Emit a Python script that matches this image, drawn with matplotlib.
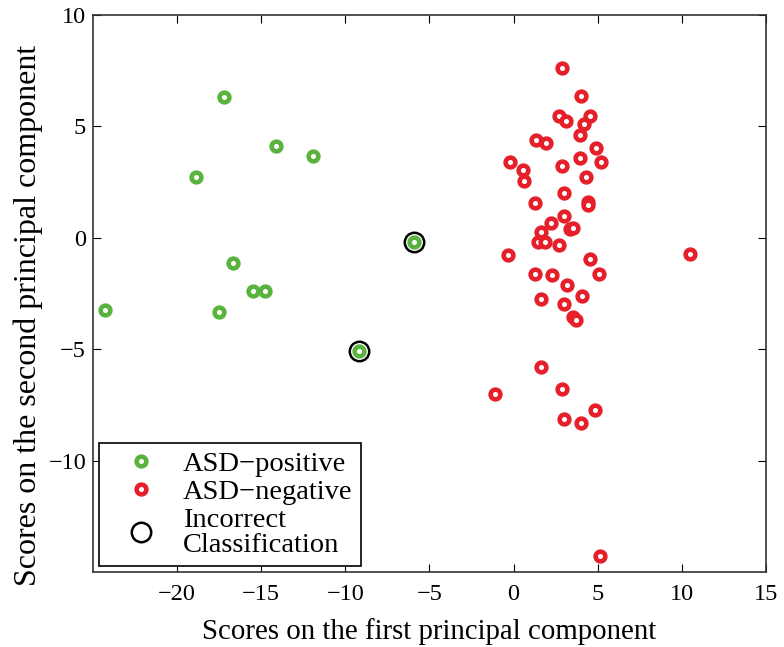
import matplotlib
matplotlib.use('Agg')
import matplotlib.pyplot as plt
from matplotlib.lines import Line2D

plt.rcParams['font.family'] = ['Liberation Serif', 'DejaVu Serif']

# ASD-positive scores (first PC, second PC)
pos_x = [-24.3, -18.9, -17.2, -17.5, -16.7, -15.5, -14.8, -14.1, -11.9, -5.9, -9.2]
pos_y = [-3.23, 2.74, 6.32, -3.32, -1.12, -2.38, -2.38, 4.13, 3.68, -0.18, -5.07]

# ASD-negative scores
neg_x = [2.9, 4.03, 2.68, 3.1, 4.52, 4.19, 3.97, 1.31, 1.9, 4.92,
         -0.2, 5.18, 3.97, 2.9, 0.56, 0.61, 4.33, 2.98, 1.25, 4.42,
         4.42, 3.0, 2.24, 3.33, 3.53, 1.65, 1.45, 1.85, 2.7, -0.34,
         4.52, 5.06, 1.25, 2.3, 3.17, 4.09, 1.65, 2.98, 3.53, 3.69,
         1.61, -1.09, 2.9, 4.82, 3.0, 4.03, 10.5, 5.12]
neg_y = [7.64, 6.37, 5.47, 5.26, 5.46, 5.11, 4.62, 4.39, 4.25, 4.02,
         3.41, 3.41, 3.57, 3.24, 3.03, 2.53, 2.72, 2.0, 1.58, 1.6,
         1.45, 1.0, 0.66, 0.4, 0.43, 0.28, -0.21, -0.21, -0.31, -0.76,
         -0.96, -1.63, -1.63, -1.69, -2.11, -2.63, -2.75, -2.99, -3.56, -3.71,
         -5.8, -7.0, -6.77, -7.71, -8.12, -8.31, -0.72, -14.3]

# misclassified samples
wrong_x = [-5.9, -9.2]
wrong_y = [-0.18, -5.07]

green = '#5ab33c'
red = '#e5202a'
ring = dict(marker='o', ls='none', ms=7, mew=3.3, mfc='white')
big = dict(marker='o', ls='none', ms=14, mew=1.8, mfc='none', mec='black')

fig = plt.figure(figsize=(7.84, 6.47), dpi=100)
ax = fig.add_axes([0.1186, 0.116, 0.8584, 0.8608])

ax.plot(neg_x, neg_y, mec=red, **ring)
ax.plot(pos_x, pos_y, mec=green, **ring)
ax.plot(wrong_x, wrong_y, **big)

ax.set_xlim(-25, 15)
ax.set_ylim(-15, 10)
ax.set_xticks([-20, -15, -10, -5, 0, 5, 10, 15])
ax.set_yticks([-10, -5, 0, 5, 10])
ax.tick_params(direction='in', labelsize=17.5, length=6, top=True, right=True,
               labeltop=False, labelright=False)
ax.tick_params(axis='x', pad=9)
ax.tick_params(axis='y', pad=5)
for s in ax.spines.values():
    s.set_linewidth(1.2)
    s.set_color('#333333')

ax.set_xlabel('Scores on the first principal component', fontsize=20.8, labelpad=9)
ax.set_ylabel('Scores on the second principal component', fontsize=23)
ax.yaxis.set_label_coords(-0.074, 0.461)

handles = [
    Line2D([], [], mec=green, **ring),
    Line2D([], [], mec=red, **ring),
    Line2D([], [], **big),
]
labels = ['ASD\u2212positive', 'ASD\u2212negative', 'Incorrect\nClassification']
leg = ax.legend(handles, labels, loc='lower left', fontsize=20.5, fancybox=False,
                edgecolor='black', framealpha=1, borderaxespad=0.2,
                handlelength=2.4, handletextpad=0.25, labelspacing=0.08,
                borderpad=0.3)
leg.get_frame().set_linewidth(1.2)
for t in leg.get_texts():
    t.set_linespacing(1.0)

fig.savefig('out.png', dpi=100)
